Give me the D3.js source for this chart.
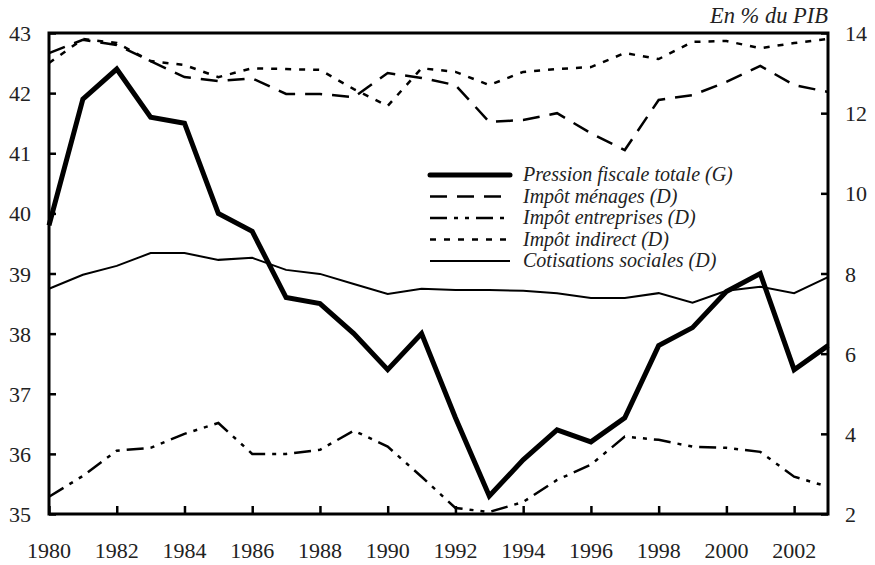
<!DOCTYPE html>
<html>
<head>
<meta charset="utf-8">
<script src="https://cdn.jsdelivr.net/npm/d3@7"></script>
<style>
  body { margin: 0; background: #fff; }
  text { font-family: "Liberation Serif", "DejaVu Serif", serif; fill: #222; }
</style>
</head>
<body>
<svg width="875" height="565"></svg>
<script>
var years = d3.range(1980, 2004);

// left axis (G)
var pressionTotale = [39.8, 41.9, 42.4, 41.6, 41.5, 40.0, 39.7, 38.6, 38.5, 38.0, 37.4, 38.0,
    36.6, 35.3, 35.9, 36.4, 36.2, 36.6, 37.8, 38.1, 38.7, 39.0, 37.4, 37.8];
// right axis (D)
var impotMenages = [13.5, 13.83, 13.7, 13.3, 12.9, 12.8, 12.87, 12.48, 12.48, 12.4, 13.0, 12.88,
    12.7, 11.78, 11.83, 12.0, 11.5, 11.08, 12.33, 12.45, 12.78, 13.18, 12.7, 12.53];
var impotEntreprises = [2.43, 2.95, 3.58, 3.65, 4.0, 4.27, 3.5, 3.5, 3.6, 4.08, 3.68, 2.93,
    2.15, 2.05, 2.3, 2.85, 3.23, 3.93, 3.85, 3.68, 3.65, 3.55, 2.93, 2.68];
var impotIndirect = [13.25, 13.85, 13.75, 13.3, 13.2, 12.9, 13.12, 13.1, 13.08, 12.6, 12.18, 13.12,
    13.03, 12.7, 13.03, 13.1, 13.15, 13.5, 13.35, 13.78, 13.8, 13.62, 13.75, 13.85];
var cotisations = [7.62, 7.97, 8.19, 8.51, 8.51, 8.34, 8.39, 8.09, 7.99, 7.74, 7.49, 7.62,
    7.59, 7.59, 7.57, 7.51, 7.39, 7.39, 7.51, 7.27, 7.57, 7.67, 7.51, 7.91];

var leftTicks = [35, 36, 37, 38, 39, 40, 41, 42, 43];
var rightTicks = [2, 4, 6, 8, 10, 12, 14];
var yearTicks = d3.range(1980, 2003, 2);

var series = [
    {name: 'Pression fiscale totale (G)', values: pressionTotale, axis: 'G', width: 5, dash: null},
    {name: 'Impôt ménages (D)', values: impotMenages, axis: 'D', width: 2.5, dash: '17,10'},
    {name: 'Impôt entreprises (D)', values: impotEntreprises, axis: 'D', width: 2.5, dash: '17,7,4,7,4,7'},
    {name: 'Impôt indirect (D)', values: impotIndirect, axis: 'D', width: 2.5, dash: '6,8'},
    {name: 'Cotisations sociales (D)', values: cotisations, axis: 'D', width: 2, dash: null}
];

var svg = d3.select('svg');
var plotL = 49, plotR = 828, plotT = 33, plotB = 514;

var x = d3.scaleLinear().domain([1980, 2003]).range([plotL, plotR]);
var yG = d3.scaleLinear().domain([35, 43]).range([plotB, plotT]);
var yD = d3.scaleLinear().domain([2, 14]).range([plotB, plotT]);

// lines
series.forEach(function(s) {
    var sc = s.axis === 'G' ? yG : yD;
    var line = d3.line()
        .x(function(d, i) { return x(years[i]); })
        .y(function(d) { return sc(d); });
    svg.append('path')
        .attr('d', line(s.values))
        .attr('fill', 'none')
        .attr('stroke', '#000')
        .attr('stroke-width', s.width)
        .attr('stroke-dasharray', s.dash)
        .attr('stroke-linejoin', 'miter');
});

// axes (ticks pointing inward)
var axisL = svg.append('g').attr('transform', 'translate(' + plotL + ',0)')
    .call(d3.axisRight(yG).tickValues(leftTicks).tickSize(7).tickFormat(''));
var axisR = svg.append('g').attr('transform', 'translate(' + plotR + ',0)')
    .call(d3.axisLeft(yD).tickValues(rightTicks).tickSize(7).tickFormat(''));
var axisB = svg.append('g').attr('transform', 'translate(0,' + plotB + ')')
    .call(d3.axisTop(x).tickValues(yearTicks).tickSize(8).tickFormat(''));
[axisL, axisR, axisB].forEach(function(a) {
    a.select('.domain').remove();
    a.selectAll('line').attr('stroke', '#000').attr('stroke-width', 2.5);
});

// frame
svg.append('rect')
    .attr('x', plotL).attr('y', plotT)
    .attr('width', plotR - plotL).attr('height', plotB - plotT)
    .attr('fill', 'none').attr('stroke', '#000').attr('stroke-width', 3);

// tick labels
svg.selectAll('.lbl-l').data(leftTicks).enter().append('text')
    .attr('x', 31).attr('y', function(d) { return yG(d) + 8; })
    .attr('text-anchor', 'end').style('font-size', '22px')
    .text(function(d) { return d; });
svg.selectAll('.lbl-r').data(rightTicks).enter().append('text')
    .attr('x', 845).attr('y', function(d) { return yD(d) + 8; })
    .attr('text-anchor', 'start').style('font-size', '22px')
    .text(function(d) { return d; });
svg.selectAll('.lbl-b').data(yearTicks).enter().append('text')
    .attr('x', function(d) { return x(d); }).attr('y', 558)
    .attr('text-anchor', 'middle').style('font-size', '22px')
    .text(function(d) { return d; });

svg.append('text')
    .attr('x', plotR).attr('y', 23)
    .attr('text-anchor', 'end')
    .style('font-size', '22.5px').style('font-style', 'italic')
    .text('En % du PIB');

// legend
var legend = svg.append('g').attr('transform', 'translate(430,175)');
series.forEach(function(s, i) {
    var ly = i * 21.5;
    legend.append('line')
        .attr('x1', 0).attr('x2', 80).attr('y1', ly).attr('y2', ly)
        .attr('stroke', '#000')
        .attr('stroke-width', s.width)
        .attr('stroke-dasharray', s.dash)
        .attr('stroke-linecap', i === 0 ? 'round' : 'butt');
    legend.append('text')
        .attr('x', 93).attr('y', ly + 6)
        .style('font-size', '20px').style('font-style', 'italic')
        .text(s.name);
});
</script>
</body>
</html>
